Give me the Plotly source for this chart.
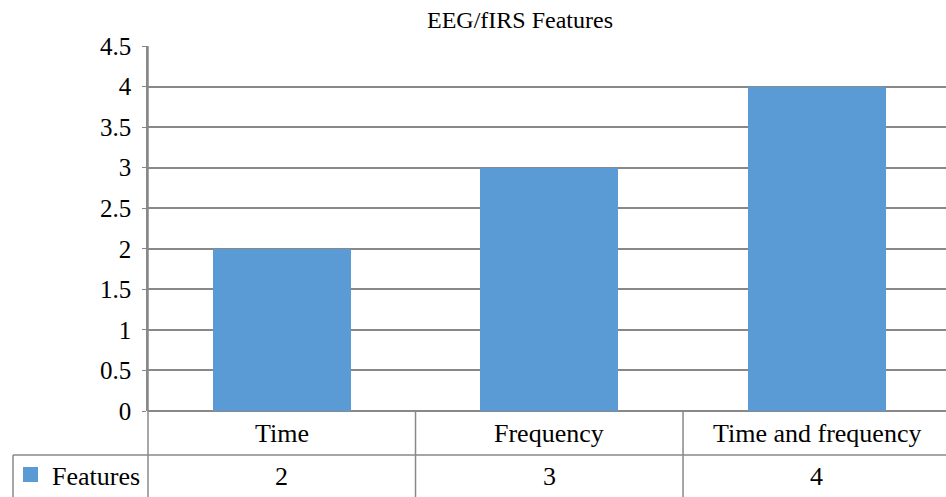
import plotly.graph_objects as go

# Chart data
categories = ["Time", "Frequency", "Time and frequency"]
features = [2, 3, 4]
series_name = "Features"
chart_title = "EEG/fIRS Features"
y_ticks = [0, 0.5, 1, 1.5, 2, 2.5, 3, 3.5, 4, 4.5]

BAR = "#5B9BD5"
GRID = "#888888"
FONT = "Times New Roman, Liberation Serif, serif"

W, H = 946, 497
ML, MT, MB = 148, 46, 86
plot_h = H - MT - MB

x_idx = list(range(len(categories)))
x_lo, x_hi = -0.5, 2.483

fig = go.Figure()
fig.add_trace(go.Bar(
    x=x_idx, y=features, name=series_name,
    marker=dict(color=BAR, line=dict(width=0)),
    width=0.515, showlegend=False,
))

def py(px):
    """pixel row (from top) -> paper y"""
    return (H - MB - px) / plot_h

def pxx(px):
    """pixel column -> paper x"""
    return (px - ML) / (W - ML)

shapes = []
line = dict(color=GRID, width=1.5)
# table horizontal lines
shapes.append(dict(type="line", xref="paper", yref="paper",
                   x0=pxx(13), x1=1.0, y0=py(455), y1=py(455), line=line))
# left edge of legend cell
shapes.append(dict(type="line", xref="paper", yref="paper",
                   x0=pxx(13), x1=pxx(13), y0=py(455), y1=py(H + 2), line=line))
# axis line continued down through table
shapes.append(dict(type="line", xref="paper", yref="paper",
                   x0=0, x1=0, y0=1, y1=py(H + 2), line=line))
# column dividers between categories
for i in range(len(categories) - 1):
    shapes.append(dict(type="line", xref="x", yref="paper",
                       x0=i + 0.5, x1=i + 0.5, y0=0, y1=py(H + 2), line=line))
# legend key
shapes.append(dict(type="rect", xref="paper", yref="paper",
                   x0=pxx(23), x1=pxx(38), y0=py(482), y1=py(467),
                   fillcolor=BAR, line=dict(width=0)))

cell_font = dict(size=26, color="black", family=FONT)
annotations = []
for i, (c, v) in enumerate(zip(categories, features)):
    annotations.append(dict(x=i, y=py(433), xref="x", yref="paper", text=c,
                            showarrow=False, font=cell_font,
                            xanchor="center", yanchor="middle"))
    annotations.append(dict(x=i, y=py(476), xref="x", yref="paper", text=str(v),
                            showarrow=False, font=cell_font,
                            xanchor="center", yanchor="middle"))
annotations.append(dict(x=pxx(50), y=py(476), xref="paper", yref="paper", text=series_name,
                        showarrow=False, font=cell_font,
                        xanchor="left", yanchor="middle"))
annotations.append(dict(x=pxx(520), y=py(20), xref="paper", yref="paper", text=chart_title,
                        showarrow=False, font=dict(size=24, color="black", family=FONT),
                        xanchor="center", yanchor="middle"))

fig.update_layout(
    width=W, height=H,
    margin=dict(l=ML, r=0, t=MT, b=MB, pad=0),
    paper_bgcolor="white", plot_bgcolor="white",
    font=dict(family=FONT, color="black"),
    shapes=shapes, annotations=annotations,
    bargap=0,
)
fig.update_xaxes(range=[x_lo, x_hi], showticklabels=False, showgrid=False,
                 zeroline=False, showline=False, ticks="")
fig.update_yaxes(range=[0, 4.5], tickvals=y_ticks, showgrid=True, gridcolor=GRID,
                 gridwidth=1.6, zeroline=True, zerolinecolor=GRID, zerolinewidth=1.6,
                 showline=True, linecolor=GRID, linewidth=1.6,
                 ticks="outside", ticklen=4, tickcolor=GRID, tickwidth=1,
                 ticklabelstandoff=6,
                 tickfont=dict(size=25, color="black", family=FONT))

fig.write_html("out.html")
